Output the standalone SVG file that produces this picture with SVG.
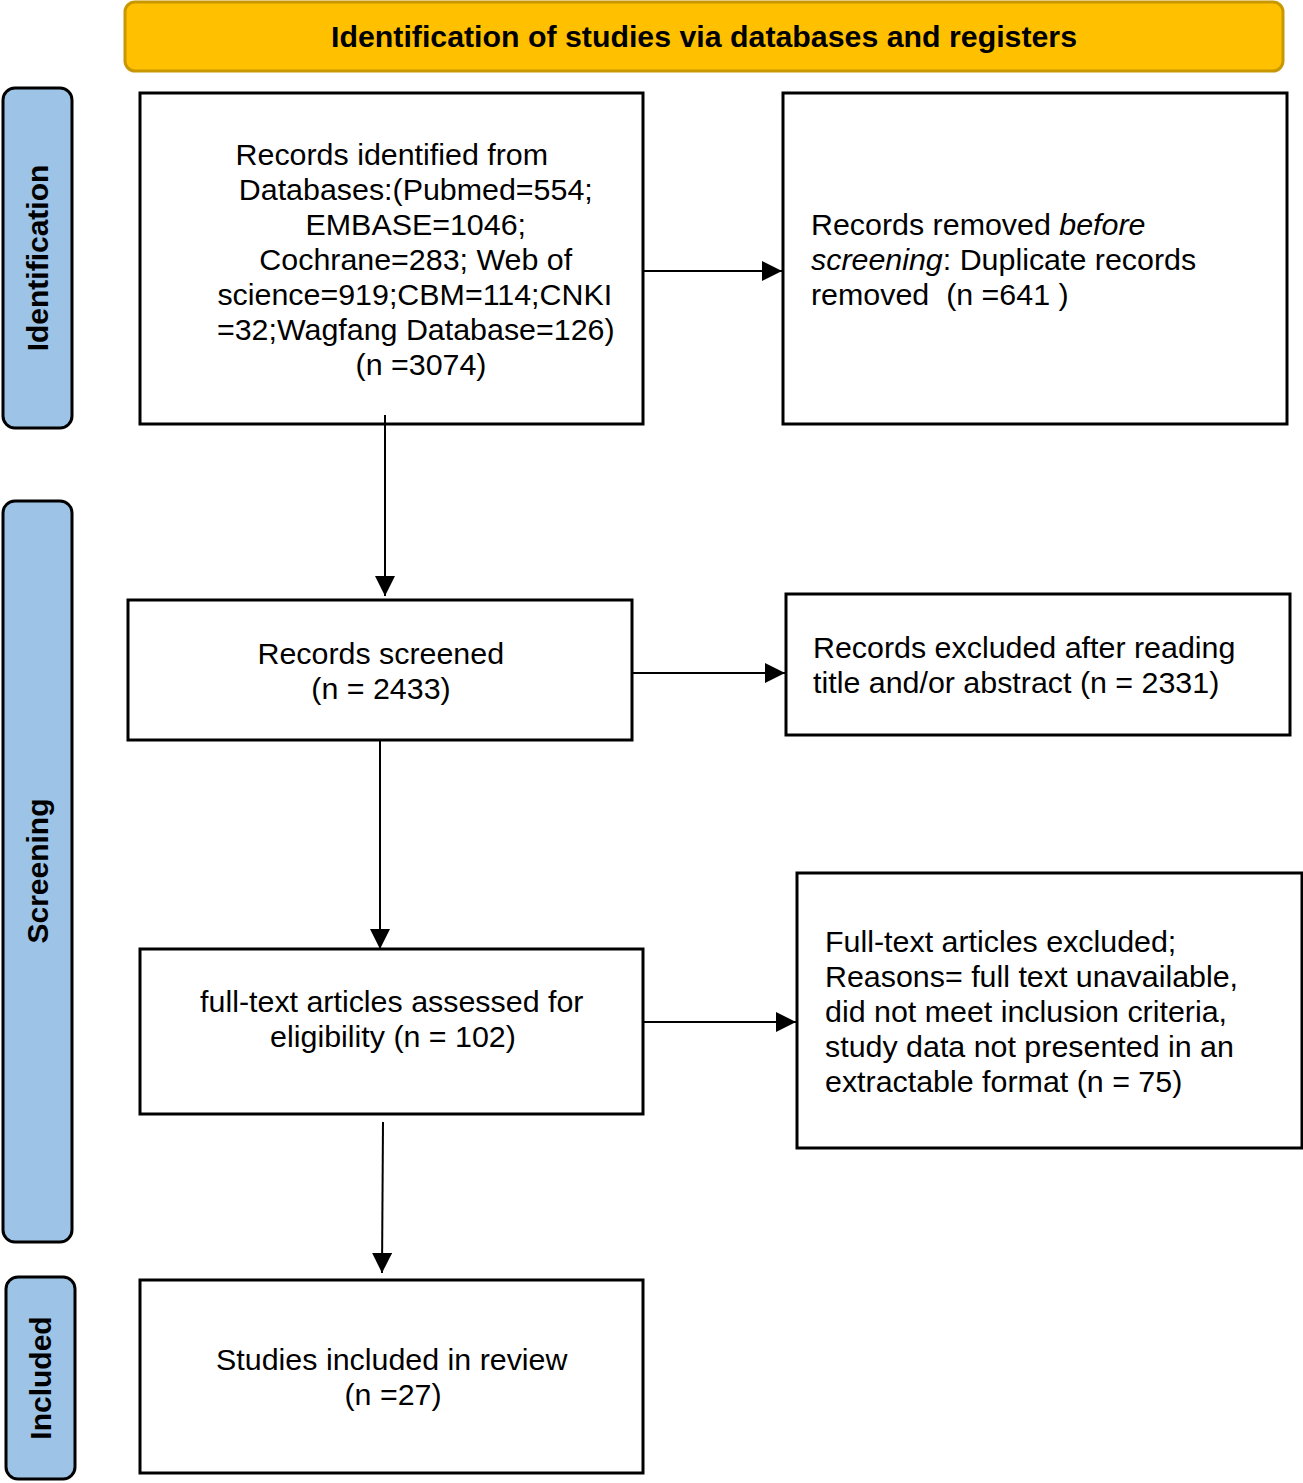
<svg xmlns="http://www.w3.org/2000/svg" width="1303" height="1483" viewBox="0 0 1303 1483">
<defs>
<marker id="ah" markerWidth="20" markerHeight="20" refX="20" refY="10" orient="auto" markerUnits="userSpaceOnUse">
<path d="M0,0 L20,10 L0,20 Z" fill="#000"/>
</marker>
<style>
.box{fill:#fff;stroke:#000;stroke-width:3}
.side{fill:#9DC3E6;stroke:#000;stroke-width:3}
.t{font-family:"Liberation Sans",Arial,sans-serif;font-size:30.4px;fill:#000}
.m{text-anchor:middle}
.sl{font-family:"Liberation Sans",Arial,sans-serif;font-size:30px;font-weight:bold;fill:#000;text-anchor:middle}
.c{fill:none;stroke:#000;stroke-width:2}
</style>
</defs>
<rect width="1303" height="1483" fill="#fff"/>
<g id="header">
<rect x="125" y="2" width="1158" height="69" rx="10" fill="#FFC000" stroke="#C99700" stroke-width="3"/>
<text x="704" y="47" font-family="'Liberation Sans',Arial,sans-serif" font-size="30px" font-weight="bold" text-anchor="middle" textLength="746" lengthAdjust="spacingAndGlyphs">Identification of studies via databases and registers</text>
</g>
<g id="side-identification">
<rect x="3" y="88" width="69" height="340" rx="12" class="side"/>
<text transform="translate(48,258) rotate(-90)" class="sl">Identification</text>
</g>
<g id="side-screening">
<rect x="3" y="501" width="69" height="741" rx="12" class="side"/>
<text transform="translate(48,871) rotate(-90)" class="sl">Screening</text>
</g>
<g id="side-included">
<rect x="6" y="1277" width="69" height="202" rx="12" class="side"/>
<text transform="translate(51,1378) rotate(-90)" class="sl">Included</text>
</g>
<g id="records-identified">
<rect x="140" y="93" width="503" height="331" class="box"/>
<text class="t m">
<tspan x="396" y="165">Records identified from</tspan>
<tspan x="420" y="200">Databases:(Pubmed=554;</tspan>
<tspan x="420" y="235">EMBASE=1046;</tspan>
<tspan x="420" y="270">Cochrane=283; Web of</tspan>
<tspan x="419" y="305">science=919;CBM=114;CNKI</tspan>
<tspan x="420" y="340">=32;Wagfang Database=126)</tspan>
<tspan x="421" y="375">(n =3074)</tspan>
</text>
</g>
<g id="records-removed">
<rect x="783" y="93" width="504" height="331" class="box"/>
<text class="t">
<tspan x="811" y="235">Records removed <tspan font-style="italic">before</tspan></tspan>
<tspan x="811" y="270"><tspan font-style="italic">screening</tspan>: Duplicate records</tspan>
<tspan x="811" y="305">removed &#160;(n =641 )</tspan>
</text>
</g>
<g id="records-screened">
<rect x="128" y="600" width="504" height="140" class="box"/>
<text class="t m">
<tspan x="385" y="664">Records screened</tspan>
<tspan x="381" y="699">(n = 2433)</tspan>
</text>
</g>
<g id="records-excluded">
<rect x="786" y="594" width="504" height="141" class="box"/>
<text class="t">
<tspan x="813" y="658">Records excluded after reading</tspan>
<tspan x="813" y="693">title and/or abstract (n = 2331)</tspan>
</text>
</g>
<g id="fulltext-assessed">
<rect x="140" y="949" width="503" height="165" class="box"/>
<text class="t m">
<tspan x="396" y="1012">full-text articles assessed for</tspan>
<tspan x="393" y="1047">eligibility (n = 102)</tspan>
</text>
</g>
<g id="fulltext-excluded">
<rect x="797" y="873" width="505" height="275" class="box"/>
<text class="t">
<tspan x="825" y="952">Full-text articles excluded;</tspan>
<tspan x="825" y="987">Reasons= full text unavailable,</tspan>
<tspan x="825" y="1022">did not meet inclusion criteria,</tspan>
<tspan x="825" y="1057">study data not presented in an</tspan>
<tspan x="825" y="1092">extractable format (n = 75)</tspan>
</text>
</g>
<g id="studies-included">
<rect x="140" y="1280" width="503" height="193" class="box"/>
<text class="t m">
<tspan x="396" y="1370">Studies included in review</tspan>
<tspan x="393" y="1405">(n =27)</tspan>
</text>
</g>
<g id="connectors">
<line x1="385" y1="415" x2="385" y2="596" class="c" marker-end="url(#ah)"/>
<line x1="643" y1="271" x2="782" y2="271" class="c" marker-end="url(#ah)"/>
<line x1="632" y1="673" x2="785" y2="673" class="c" marker-end="url(#ah)"/>
<line x1="380" y1="740" x2="380" y2="949" class="c" marker-end="url(#ah)"/>
<line x1="643" y1="1022" x2="796" y2="1022" class="c" marker-end="url(#ah)"/>
<line x1="383" y1="1122" x2="382" y2="1273" class="c" marker-end="url(#ah)"/>
</g>
</svg>
